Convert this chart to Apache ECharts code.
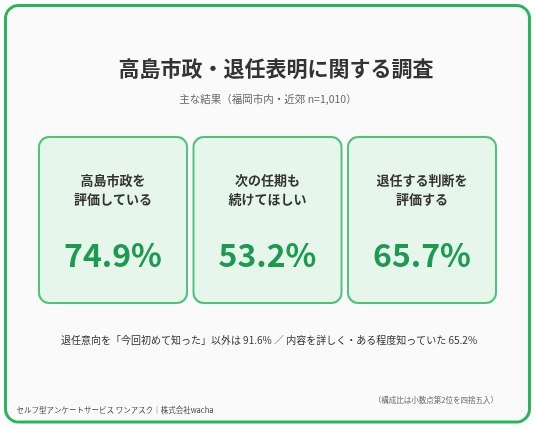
<!DOCTYPE html>
<html><head><meta charset="utf-8">
<script src="https://cdn.jsdelivr.net/npm/echarts@6/dist/echarts.min.js"></script>
<style>html,body{margin:0;padding:0;background:#fff}#c{width:536px;height:429px}</style>
</head><body><div id="c"></div>
<script>
const titleText = '高島市政・退任表明に関する調査';
const subtitleText = '主な結果（福岡市内・近郊 n=1,010）';
const categories = ['高島市政を\n評価している', '次の任期も\n続けてほしい', '退任する判断を\n評価する'];
const values = [74.9, 53.2, 65.7];
const noteText = '退任意向を「今回初めて知った」以外は 91.6% ／ 内容を詳しく・ある程度知っていた 65.2%';
const sourceText = 'セルフ型アンケートサービス ワンアスク｜株式会社wacha';
const roundingText = '（構成比は小数点第2位を四捨五入）';

const FONT = '"Noto Sans CJK JP", "Noto Sans", sans-serif';
const chart = echarts.init(document.getElementById('c'), null, {renderer: 'canvas'});
chart.setOption({
  backgroundColor: '#ffffff',
  animation: false,
  graphic: [
    {type: 'rect', shape: {x: 5.5, y: 5.5, width: 524, height: 416.5, r: 13},
     style: {fill: '#fafafa', stroke: '#27b75a', lineWidth: 3}, z: -10},
    {type: 'text', x: 276, y: 68,
     style: {text: titleText, font: 'bold 21px ' + FONT, fill: '#333333', align: 'center', verticalAlign: 'middle'}},
    {type: 'text', x: 268, y: 99,
     style: {text: subtitleText, font: '10.5px ' + FONT, fill: '#666666', align: 'center', verticalAlign: 'middle'}},
    {type: 'text', x: 269, y: 340,
     style: {text: noteText, font: '10px ' + FONT, fill: '#333333', align: 'center', verticalAlign: 'middle'}},
    {type: 'text', x: 16.5, y: 410,
     style: {text: sourceText, font: '7.5px ' + FONT, fill: '#444444', align: 'left', verticalAlign: 'middle'}},
    {type: 'text', x: 498, y: 400,
     style: {text: roundingText, font: '7.5px ' + FONT, fill: '#666666', align: 'right', verticalAlign: 'middle'}}
  ],
  grid: {left: 35.75, right: 36.75, top: 137, bottom: 126},
  xAxis: {type: 'category', data: categories, show: false},
  yAxis: {type: 'value', min: 0, max: 1, show: false},
  series: [{
    type: 'custom',
    data: values.map((v, i) => [i, v]),
    renderItem: function (params, api) {
      const idx = api.value(0);
      const v = api.value(1);
      const top = api.coord([idx, 1]);
      const bottom = api.coord([idx, 0]);
      const band = api.size([1, 0])[0];
      const w = band - 6.5;
      const cx = top[0];
      const h = bottom[1] - top[1];
      return {
        type: 'group',
        children: [
          {type: 'rect', shape: {x: cx - w / 2, y: top[1], width: w, height: h, r: 10},
           style: {fill: '#e6f6eb', stroke: '#4cc47a', lineWidth: 2}},
          {type: 'text', x: cx, y: top[1] + 52.5,
           style: {text: categories[idx], font: 'bold 13px ' + FONT, fill: '#333333',
                   align: 'center', verticalAlign: 'middle', lineHeight: 19}},
          {type: 'text', x: cx, y: top[1] + 118,
           style: {text: v.toFixed(1) + '%', font: 'bold 32px ' + FONT, fill: '#1c9a4f',
                   align: 'center', verticalAlign: 'middle'}}
        ]
      };
    }
  }]
});
</script></body></html>
